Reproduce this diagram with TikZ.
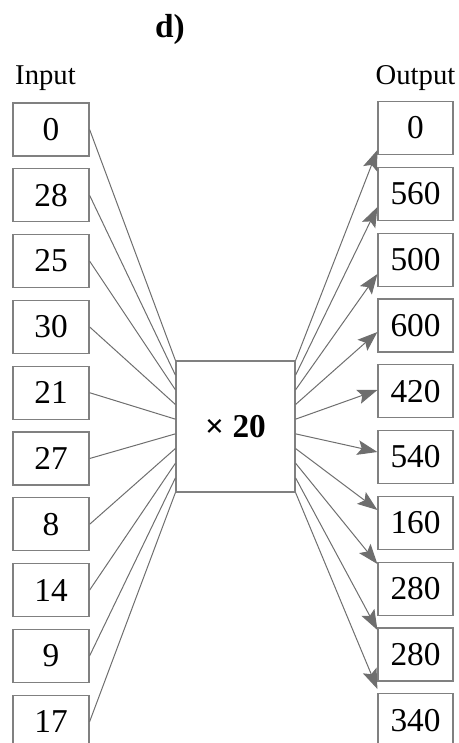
\documentclass[tikz,border=0pt]{standalone}
\usepackage{fontspec}
\setmainfont{Liberation Serif}
\usetikzlibrary{arrows.meta,calc}
\definecolor{boxgray}{RGB}{128,128,128}
\definecolor{linegray}{RGB}{110,110,110}
\begin{document}
\begin{tikzpicture}[x=0.75pt,y=-0.75pt,
  inbox/.style={draw=boxgray,line width=0.9pt,minimum width=57pt,minimum height=39.75pt,inner sep=0pt,font=\fontsize{25}{29}\selectfont},
  outbox/.style={inbox,minimum width=56.25pt},
  mulbox/.style={draw=boxgray,line width=0.9pt,minimum width=89.25pt,minimum height=98.25pt,inner sep=0pt,font=\fontsize{25}{30}\selectfont\bfseries},
  link/.style={draw=linegray,line width=0.75pt},
  arrowlink/.style={link,-{Stealth[length=15pt,width=11pt,inset=3pt,fill=linegray]}},
  label/.style={anchor=base,font=\fontsize{21.5}{25}\selectfont}]
\useasboundingbox (0,0) rectangle (459,743);
\node[anchor=base,font=\fontsize{25}{30}\selectfont\bfseries] (title) at (170,37) {d)};
\node[label] (inlabel) at (45.5,84) {Input};
\node[label] (outlabel) at (415.5,84) {Output};
\node[mulbox] (mul) at (235.5,426.5) {× 20};
\foreach \v [count=\i from 0] in {0,28,25,30,21,27,8,14,9,17}
  \node[inbox] (in\i) at (51,{129.5+65.8*\i}) {\v};
\foreach \v [count=\i from 0] in {0,560,500,600,420,540,160,280,280,340}
  \node[outbox] (out\i) at (415.5,{128+65.8*\i}) {\v};
\foreach \i in {0,...,9}
  \draw[link] (in\i.east) -- ($(mul.north west)!{\i/9}!(mul.south west)$);
\foreach \i/\t in {0/150,1/207,2/274,3/332,4/390,5/452,6/510,7/564,8/630,9/689}
  \draw[arrowlink] ($(mul.north east)!{\i/9}!(mul.south east)$) -- (out\i.west |- 0,\t);
\end{tikzpicture}
\end{document}
